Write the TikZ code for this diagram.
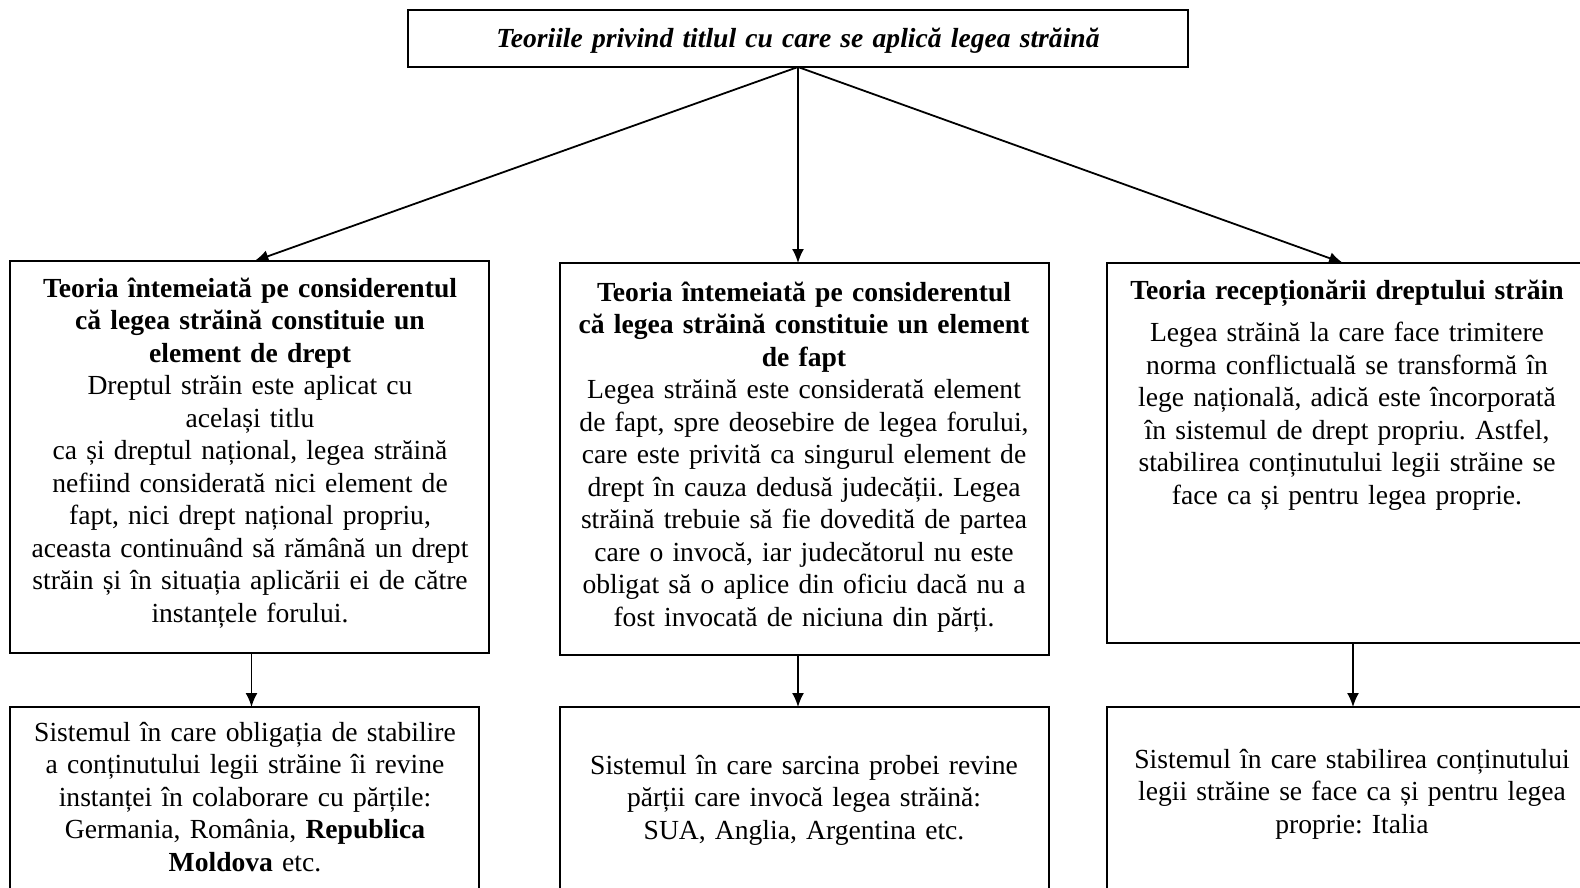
\documentclass[tikz,border=0pt]{standalone}
\usepackage{fontspec}
\setmainfont{Liberation Serif}
\usetikzlibrary{arrows.meta,calc}
\frenchspacing
\begin{document}
\begin{tikzpicture}[x=1pt,y=-1pt,
  boxst/.style={draw, line width=1.8pt, inner sep=0pt, outer sep=0pt, anchor=north west},
  txt/.style={inner sep=0pt, outer sep=0pt, anchor=base, align=center, text width=#1,
    font=\fontsize{27.6}{32.5}\selectfont\frenchspacing},
  arr/.style={line width=1.8pt, -{Latex[length=14pt,width=12pt]}}]
\useasboundingbox (0,0) rectangle (1580,887);
\fill[white] (0,0) rectangle (1580,887);
% boxes
\node[boxst, minimum width=780pt, minimum height=57pt] (T) at (408,10) {};
\node[boxst, minimum width=479pt, minimum height=392pt] (L1) at (10,261) {};
\node[boxst, minimum width=489pt, minimum height=392pt] (M1) at (560,263) {};
\node[boxst, minimum width=480pt, minimum height=380pt] (R1) at (1107,263) {};
\node[boxst, minimum width=469pt, minimum height=200pt] (L2) at (10,707) {};
\node[boxst, minimum width=489pt, minimum height=200pt] (M2) at (560,707) {};
\node[boxst, minimum width=480pt, minimum height=200pt] (R2) at (1107,707) {};
% texts
\node[txt=770pt] (Tt) at (798,47) {\textbf{\textit{Teoriile privind titlul cu care se aplică legea străină}}};
\node[txt=478pt] (L1t) at (250,297) {\textbf{Teoria întemeiată pe considerentul\\ că legea străină constituie un\\ element de drept}\\
Dreptul străin este aplicat cu\\ același titlu\\ ca și dreptul național, legea străină\\ nefiind considerată nici element de\\ fapt, nici drept național propriu,\\ aceasta continuând să rămână un drept\\ străin și în situația aplicării ei de către\\ instanțele forului.};
\node[txt=488pt] (M1t) at (804,301) {\textbf{Teoria întemeiată pe considerentul\\ că legea străină constituie un element\\ de fapt}\\
Legea străină este considerată element\\ de fapt, spre deosebire de legea forului,\\ care este privită ca singurul element de\\ drept în cauza dedusă judecății. Legea\\ străină trebuie să fie dovedită de partea\\ care o invocă, iar judecătorul nu este\\ obligat să o aplice din oficiu dacă nu a\\ fost invocată de niciuna din părți.};
\node[txt=470pt] (R1t) at (1347,299) {\textbf{Teoria recepționării dreptului străin}\\[10pt]
Legea străină la care face trimitere\\ norma conflictuală se transformă în\\ lege națională, adică este încorporată\\ în sistemul de drept propriu. Astfel,\\ stabilirea conținutului legii străine se\\ face ca și pentru legea proprie.};
\node[txt=469pt] (L2t) at (245,741) {Sistemul în care obligația de stabilire\\ a conținutului legii străine îi revine\\ instanței în colaborare cu părțile:\\ Germania, România, \textbf{Republica}\\ \textbf{Moldova} etc.};
\node[txt=488pt] (M2t) at (804,774) {Sistemul în care sarcina probei revine\\ părții care invocă legea străină:\\ SUA, Anglia, Argentina etc.};
\node[txt=470pt] (R2t) at (1352,768) {Sistemul în care stabilirea conținutului\\ legii străine se face ca și pentru legea\\ proprie: Italia};
% connectors
\draw[arr] (T.south) -- ($(L1.north)+(5,0)$);
\draw[arr] (T.south) -- (T.south |- M1.north);
\draw[arr] (T.south) -- ($(R1.north)+(-4,0)$);
\draw[arr] ($(L1.south)+(2,0)$) -- ($(L1.south |- L2.north)+(2,0)$);
\draw[arr] (T.south |- M1.south) -- (T.south |- M2.north);
\draw[arr] ($(R1.south)+(6,0)$) -- ($(R1.south |- R2.north)+(6,0)$);
\end{tikzpicture}
\end{document}
